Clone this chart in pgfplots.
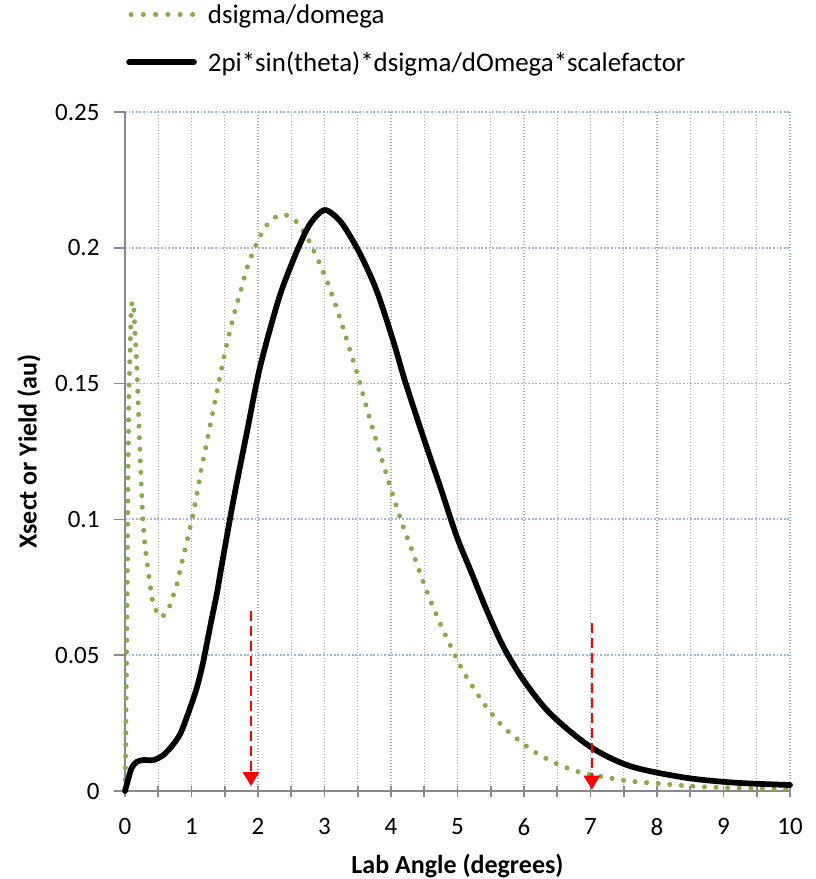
\documentclass[border=0pt]{standalone}
\usepackage{fontspec}
\setmainfont{Carlito}
\usepackage{pgfplots}
\pgfplotsset{compat=1.18}
\usetikzlibrary{arrows.meta}
\definecolor{dgreen}{RGB}{138,168,76}
\definecolor{axgray}{RGB}{137,137,137}
\definecolor{gridgray}{RGB}{170,170,170}
\definecolor{gridblue}{RGB}{155,183,224}
\begin{document}
\begin{tikzpicture}
\begin{axis}[
  scale only axis,
  width=665pt, height=679pt,
  xmin=0, xmax=10, ymin=0, ymax=0.25,
  clip=false,
  axis lines*=left,
  axis line style={axgray, line width=1.6pt},
  xtick={0,1,...,10},
  xticklabels={0,1,2,3,4,5,6,7,8,9,10},
  minor x tick num=1,
  ytick={0,0.05,0.1,0.15,0.2,0.25},
  yticklabels={0,0.05,0.1,0.15,0.2,0.25},
  tick align=outside,
  major tick length=11pt,
  minor tick length=11pt,
  tick style={axgray, line width=1.6pt},
  x tick style={yshift=5.5pt},
  xmajorgrids, xminorgrids, ymajorgrids,
  x grid style={gridgray, line width=1.4pt, dash pattern=on 1.4pt off 1.6pt},
  y grid style={gridblue, line width=1.8pt, dash pattern=on 1.8pt off 1.8pt},
  tick label style={font=\fontsize{25}{29}\selectfont},
  xticklabel style={yshift=-13pt},
  yticklabel style={xshift=-11pt},
  /pgf/number format/assume math mode=true,
  xlabel={\bfseries Lab Angle (degrees)},
  ylabel={\bfseries Xsect or Yield (au)},
  xlabel style={font=\fontsize{26}{30}\selectfont, at={(axis description cs:0.5,0)}, anchor=base, yshift=-82pt},
  ylabel style={font=\fontsize{26}{30}\selectfont, at={(axis description cs:0,0.5)}, anchor=center, yshift=96pt},
  legend style={at={(0,1)}, anchor=south west, xshift=-2pt, yshift=35pt, draw=none, fill=none,
    font=\fontsize{26.9}{31}\selectfont, row sep=23pt, legend cell align=left},
  legend image code/.code={\draw[#1] (0pt,0pt) -- (65pt,0pt); \path (74pt,0pt);},
]
\addplot[dgreen, smooth, tension=0.4, line width=5pt, line cap=round, dash pattern=on 0pt off 11.6pt,
  legend image code/.code={\draw[dgreen, line width=5pt, line cap=round, dash pattern=on 0pt off 12.3pt] (2pt,0pt) -- (65pt,0pt); \path (74pt,0pt);}]
coordinates {
(0,0) (0.01,0.015) (0.025,0.053) (0.035,0.077) (0.04,0.1) (0.045,0.113) (0.05,0.127)
(0.055,0.1396) (0.065,0.152) (0.075,0.161) (0.085,0.170) (0.1,0.179) (0.125,0.180)
(0.145,0.1715) (0.155,0.167) (0.175,0.158) (0.195,0.1454) (0.214,0.132) (0.234,0.119)
(0.256,0.1065) (0.275,0.098) (0.305,0.0894) (0.35,0.0807) (0.40,0.072) (0.44,0.0678)
(0.54,0.064) (0.65,0.0668) (0.71,0.071) (0.77,0.075) (0.85,0.0836) (0.93,0.0917)
(1.01,0.1005) (1.08,0.109) (1.14,0.1176) (1.21,0.126) (1.28,0.1345) (1.35,0.143)
(1.42,0.1516) (1.49,0.160) (1.57,0.1685) (1.654,0.1768) (1.75,0.185) (1.85,0.1937)
(1.98,0.2016) (2.06,0.2056) (2.16,0.2092) (2.30,0.2118) (2.46,0.2118) (2.60,0.209)
(2.78,0.202) (3.0,0.190) (3.18,0.178) (3.34,0.1657) (3.5,0.153) (3.64,0.1406) (3.79,0.128)
(4.0,0.111) (4.16,0.099) (4.34,0.087) (4.52,0.0746) (4.72,0.0627) (4.95,0.0506)
(5.11,0.043) (5.39,0.0324) (5.66,0.0243) (5.93,0.0185) (6.21,0.0136) (6.53,0.0096)
(6.87,0.0067) (7.22,0.0051) (7.56,0.0037) (8.09,0.0026) (8.65,0.0016) (9.35,0.001)
(9.9,0.0007) (10,0.0006)
};
\addlegendentry{dsigma/domega}
\addplot[black, smooth, tension=0.5, line width=5.7pt, line cap=round, line join=round] coordinates {
(0,0) (0.05,0.0045) (0.1,0.0085) (0.175,0.0107) (0.275,0.0114) (0.43,0.0114)
(0.58,0.0133) (0.70,0.0164) (0.83,0.021) (0.95,0.0286) (1.08,0.038) (1.18,0.048)
(1.28,0.0605) (1.38,0.0725) (1.45,0.0825) (1.63,0.107) (1.83,0.1317) (2.03,0.156)
(2.31,0.181) (2.53,0.1955) (2.73,0.2066) (2.87,0.2115) (3.0,0.2139) (3.12,0.2125)
(3.28,0.2084) (3.53,0.198) (3.78,0.1845) (4.03,0.166) (4.21,0.151)
(4.49,0.130) (4.74,0.112) (4.99,0.0936) (5.2,0.081) (5.44,0.0665) (5.69,0.0531)
(5.99,0.0409) (6.39,0.0286) (6.99,0.0164) (7.59,0.0092) (8.40,0.005) (9.15,0.0031)
(10,0.0022)
};
\addlegendentry{2pi*sin(theta)*dsigma/dOmega*scalefactor}
\addplot[forget plot, red, line width=2.6pt, dash pattern=on 10pt off 5pt,
  -{Triangle[width=16pt,length=14pt]}] coordinates {(1.895,0.0663) (1.895,0.0018)};
\addplot[forget plot, red, line width=2.6pt, dash pattern=on 10pt off 5pt,
  -{Triangle[width=16pt,length=14pt]}] coordinates {(7.02,0.0617) (7.02,0.0005)};
\end{axis}
\pgfresetboundingbox
\path[use as bounding box] ([xshift=-125pt,yshift=-88pt]current axis.south west) rectangle ([xshift=25pt,yshift=112pt]current axis.north east);
\end{tikzpicture}
\end{document}
